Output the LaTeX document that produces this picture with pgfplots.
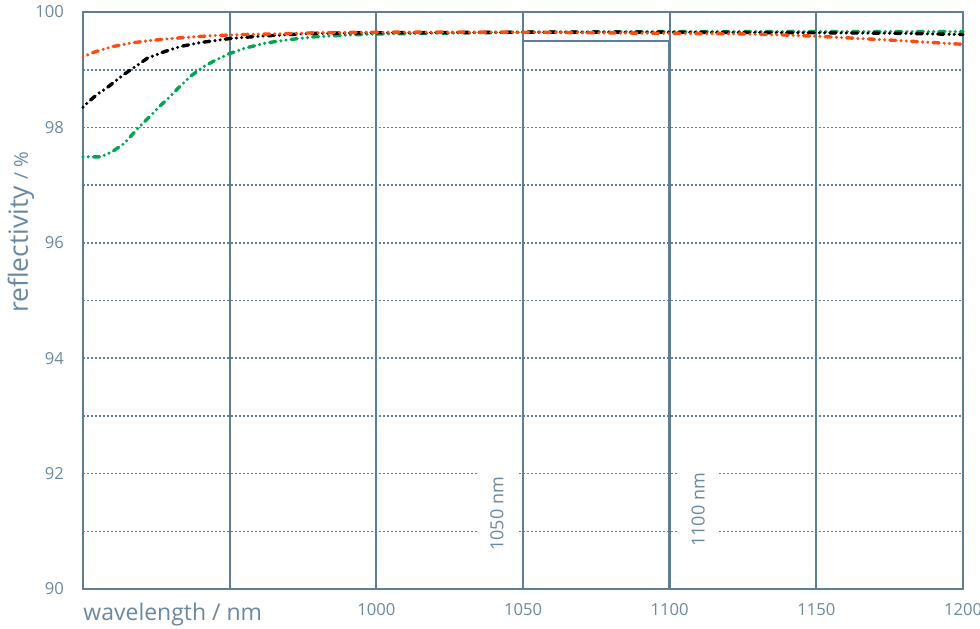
\documentclass[border=0pt]{standalone}
\usepackage{pgfplots}
\pgfplotsset{compat=1.18}
\usepackage{fontspec}
\setmainfont{Open Sans}
\definecolor{axc}{HTML}{5E7D97}
\definecolor{txc}{HTML}{6A88A0}
\definecolor{cred}{HTML}{FF4A10}
\definecolor{cgreen}{HTML}{00A651}
\begin{document}
\begin{tikzpicture}
\begin{axis}[
  scale only axis, width=440pt, height=288.5pt,
  xmin=900, xmax=1200, ymin=90, ymax=100,
  xtick={900,950,1000,1050,1100,1150,1200},
  xticklabels={,,1000,1050,1100,1150,1200},
  ytick={90,92,94,96,98,100},
  minor ytick={91,93,95,97,99},
  major tick length=0pt, minor tick length=0pt,
  xmajorgrids, ymajorgrids, yminorgrids,
  x grid style={axc, line width=1pt, solid},
  y grid style={axc, line width=0.8pt, dash pattern=on 0.8pt off 1.2pt},
  minor y grid style={axc, line width=0.8pt, dash pattern=on 0.8pt off 1.2pt},
  axis line style={axc, line width=1pt},
  /pgf/number format/assume math mode=true,
  /pgf/number format/set thousands separator={},
  ticklabel style={font=\fontsize{8.3}{10}\selectfont, text=txc},
  xticklabel style={yshift=-3.5pt},
  yticklabel style={xshift=-6pt},
  clip=false,
]
\addplot[cgreen, line width=1.7pt, line cap=round, dash pattern=on 0pt off 2.6pt on 0pt off 2.6pt on 3pt off 2.6pt] coordinates {
(900,97.49) (906,97.49) (910,97.58) (914,97.72) (919,98.00) (923,98.20) (926,98.36) (930,98.55) (933,98.71) (937,98.90) (941,99.05) (945,99.16) (950,99.28) (955,99.37) (962,99.46) (970,99.52) (979,99.57) (990,99.60) (1000,99.62) (1050,99.65) (1100,99.66) (1150,99.66) (1200,99.66)};
\addplot[black, line width=1.7pt, line cap=round, dash pattern=on 0pt off 2.6pt on 0pt off 2.6pt on 3pt off 2.6pt] coordinates {
(900,98.35) (902,98.45) (905,98.58) (908,98.68) (910,98.76) (914,98.92) (918,99.06) (922,99.20) (927,99.30) (933,99.40) (940,99.47) (950,99.54) (960,99.58) (978,99.63) (1000,99.64) (1050,99.65) (1100,99.65) (1150,99.64) (1180,99.63) (1200,99.61)};
\addplot[cred, line width=1.7pt, line cap=round, dash pattern=on 0pt off 2.6pt on 0pt off 2.6pt on 3pt off 2.6pt] coordinates {
(900,99.22) (903,99.29) (906,99.34) (910,99.40) (916,99.46) (922,99.50) (928,99.53) (935,99.56) (944,99.59) (955,99.61) (965,99.62) (980,99.64) (1000,99.65) (1025,99.65) (1050,99.65) (1075,99.64) (1100,99.63) (1125,99.62) (1140,99.60) (1150,99.58) (1165,99.54) (1180,99.50) (1190,99.47) (1200,99.44)};
\draw[axc, line width=1.3pt] (axis cs:1050,90) -- (axis cs:1050,99.5) -- (axis cs:1100,99.5) -- (axis cs:1100,90);
\node[rotate=90, fill=white, inner xsep=3pt, minimum height=20pt, text=txc, font=\fontsize{9}{10}\selectfont] at (axis cs:1041.1,91.30) {1050 nm};
\node[rotate=90, fill=white, inner xsep=3pt, minimum height=20pt, text=txc, font=\fontsize{9}{10}\selectfont] at (axis cs:1109.7,91.37) {1100 nm};
\node[anchor=base west, text=txc, font=\fontsize{11.5}{13}\selectfont, inner sep=0pt] at ([yshift=-15.5pt]rel axis cs:0,0) {wavelength / nm};
\node[rotate=90, anchor=base west, text=txc, inner sep=0pt] at ([xshift=-27.5pt]axis cs:900,94.78) {\fontsize{13.2}{15}\selectfont reflectivity \fontsize{9.5}{11}\selectfont/ \%};
\coordinate (SW) at (rel axis cs:0,0);
\coordinate (NE) at (rel axis cs:1,1);
\end{axis}
\pgfresetboundingbox
\path[use as bounding box] ([xshift=-41.5pt,yshift=-19.5pt]SW) rectangle ([xshift=8.5pt,yshift=6pt]NE);
\end{tikzpicture}
\end{document}
